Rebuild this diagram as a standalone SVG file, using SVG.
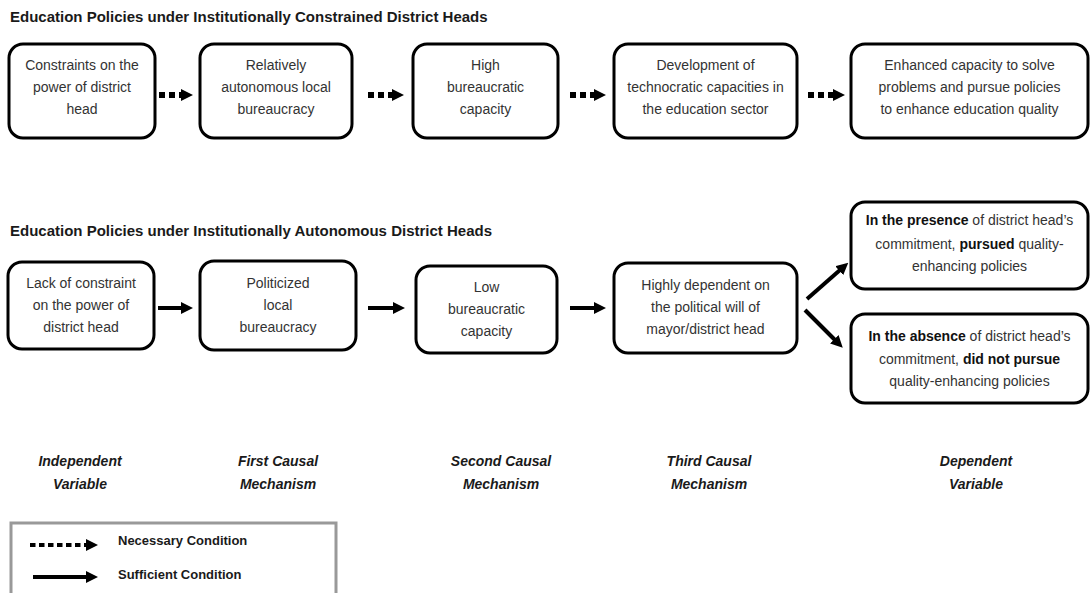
<svg xmlns="http://www.w3.org/2000/svg" width="1090" height="593" viewBox="0 0 1090 593">
<style>
.title{font-family:"Liberation Sans",Arial,sans-serif;font-size:15px;font-weight:bold;fill:#1a1a1a}
.box{fill:#fff;stroke:#000;stroke-width:3}
.t{font-family:"Liberation Sans",Arial,sans-serif;font-size:14px;fill:#333;text-anchor:middle}
.b{font-weight:bold;fill:#111}
.lab{font-family:"Liberation Sans",Arial,sans-serif;font-size:14px;font-weight:bold;font-style:italic;fill:#1a1a1a;text-anchor:middle}
.leg{font-family:"Liberation Sans",Arial,sans-serif;font-size:13px;font-weight:bold;fill:#1a1a1a}
.dot{stroke:#000;stroke-width:6;stroke-dasharray:6 4;fill:none}
.sol{stroke:#000;stroke-width:4;fill:none}
</style>
<defs>
<marker id="head" markerUnits="userSpaceOnUse" markerWidth="12" markerHeight="12" refX="1" refY="6" orient="auto">
<path d="M0,0 L12,6 L0,12 z" fill="#000"/>
</marker>
</defs>
<text class="title" x="10" y="22">Education Policies under Institutionally Constrained District Heads</text>
<text class="title" x="10" y="236">Education Policies under Institutionally Autonomous District Heads</text>

<g id="c1"><rect class="box" x="9" y="44" width="146" height="94" rx="14"/>
<text class="t" x="82" y="70">Constraints on the</text><text class="t" x="82" y="92">power of district</text><text class="t" x="82" y="114">head</text></g>
<g id="c2"><rect class="box" x="200" y="44" width="152" height="94" rx="14"/>
<text class="t" x="276" y="70">Relatively</text><text class="t" x="276" y="92">autonomous local</text><text class="t" x="276" y="114">bureaucracy</text></g>
<g id="c3"><rect class="box" x="413" y="44" width="145" height="94" rx="14"/>
<text class="t" x="485.5" y="70">High</text><text class="t" x="485.5" y="92">bureaucratic</text><text class="t" x="485.5" y="114">capacity</text></g>
<g id="c4"><rect class="box" x="614" y="44" width="183" height="94" rx="14"/>
<text class="t" x="705.5" y="70">Development of</text><text class="t" x="705.5" y="92">technocratic capacities in</text><text class="t" x="705.5" y="114">the education sector</text></g>
<g id="c5"><rect class="box" x="851" y="44" width="237" height="94" rx="14"/>
<text class="t" x="969.5" y="70">Enhanced capacity to solve</text><text class="t" x="969.5" y="92">problems and pursue policies</text><text class="t" x="969.5" y="114">to enhance education quality</text></g>

<g id="a1"><rect class="box" x="8" y="262" width="146" height="87" rx="14"/>
<text class="t" x="81" y="288">Lack of constraint</text><text class="t" x="81" y="310">on the power of</text><text class="t" x="81" y="332">district head</text></g>
<g id="a2"><rect class="box" x="200" y="261" width="156" height="89" rx="14"/>
<text class="t" x="278" y="288">Politicized</text><text class="t" x="278" y="310">local</text><text class="t" x="278" y="332">bureaucracy</text></g>
<g id="a3"><rect class="box" x="416" y="266" width="141" height="87" rx="14"/>
<text class="t" x="486.5" y="292">Low</text><text class="t" x="486.5" y="314">bureaucratic</text><text class="t" x="486.5" y="336">capacity</text></g>
<g id="a4"><rect class="box" x="614" y="263" width="183" height="90" rx="14"/>
<text class="t" x="705.5" y="290">Highly dependent on</text><text class="t" x="705.5" y="312">the political will of</text><text class="t" x="705.5" y="334">mayor/district head</text></g>
<g id="a5"><rect class="box" x="851" y="202" width="237" height="87" rx="14"/>
<text class="t" x="969.5" y="225"><tspan class="b">In the presence</tspan> of district head’s</text><text class="t" x="969.5" y="249">commitment, <tspan class="b">pursued</tspan> quality-</text><text class="t" x="969.5" y="271">enhancing policies</text></g>
<g id="a6"><rect class="box" x="851" y="314" width="237" height="89" rx="14"/>
<text class="t" x="969.5" y="341"><tspan class="b">In the absence</tspan> of district head’s</text><text class="t" x="969.5" y="364">commitment, <tspan class="b">did not pursue</tspan></text><text class="t" x="969.5" y="386">quality-enhancing policies</text></g>

<g id="connectors">
<line class="dot" x1="159" y1="95" x2="182" y2="95" marker-end="url(#head)"/>
<line class="dot" x1="368" y1="95" x2="393" y2="95" marker-end="url(#head)"/>
<line class="dot" x1="570" y1="95" x2="595" y2="95" marker-end="url(#head)"/>
<line class="dot" x1="808" y1="95" x2="834" y2="95" marker-end="url(#head)"/>
<line class="sol" x1="158" y1="308" x2="182" y2="308" marker-end="url(#head)"/>
<line class="sol" x1="368" y1="308" x2="394" y2="308" marker-end="url(#head)"/>
<line class="sol" x1="570" y1="308" x2="595" y2="308" marker-end="url(#head)"/>
<line class="sol" x1="807" y1="299" x2="840" y2="270" marker-end="url(#head)"/>
<line class="sol" x1="805" y1="310" x2="835" y2="340" marker-end="url(#head)"/>
</g>

<g id="labels">
<text class="lab" x="80" y="466">Independent</text><text class="lab" x="80" y="489">Variable</text>
<text class="lab" x="278" y="466">First Causal</text><text class="lab" x="278" y="489">Mechanism</text>
<text class="lab" x="501" y="466">Second Causal</text><text class="lab" x="501" y="489">Mechanism</text>
<text class="lab" x="709" y="466">Third Causal</text><text class="lab" x="709" y="489">Mechanism</text>
<text class="lab" x="976" y="466">Dependent</text><text class="lab" x="976" y="489">Variable</text>
</g>

<g id="legend">
<rect x="11" y="523" width="325" height="80" fill="#fff" stroke="#999" stroke-width="3"/>
<line x1="30" y1="545" x2="87" y2="545" stroke="#000" stroke-width="4" stroke-dasharray="5.5 3.5" marker-end="url(#head)"/>
<line x1="33" y1="577" x2="87" y2="577" stroke="#000" stroke-width="4" marker-end="url(#head)"/>
<text class="leg" x="118" y="545">Necessary Condition</text>
<text class="leg" x="118" y="579">Sufficient Condition</text>
</g>
</svg>
